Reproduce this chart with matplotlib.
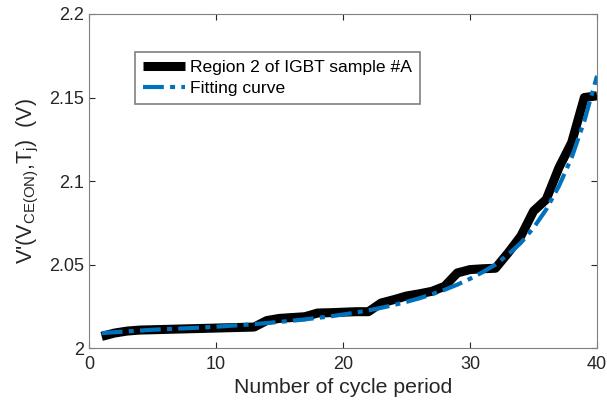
import matplotlib.pyplot as plt
import numpy as np

plt.rcParams['font.family'] = ['Liberation Sans', 'DejaVu Sans']
plt.rcParams['mathtext.fontset'] = 'custom'
plt.rcParams['mathtext.rm'] = 'Liberation Sans'
plt.rcParams['mathtext.it'] = 'Liberation Sans'

# Measured data (cycle 1..40)
cycles = np.arange(1, 41)
measured = [2.007, 2.009, 2.0102, 2.0108, 2.011, 2.0112, 2.0114, 2.0116, 2.0118, 2.012,
            2.0122, 2.0124, 2.0126, 2.0165, 2.0178, 2.0183, 2.0188, 2.021, 2.0212, 2.0215,
            2.0218, 2.0218, 2.027, 2.029, 2.0312, 2.0325, 2.034, 2.037, 2.045, 2.047,
            2.0475, 2.0478, 2.057, 2.067, 2.082, 2.089, 2.108, 2.123, 2.150, 2.151]

# Fitting curve values
fitted = [2.009, 2.0095, 2.010, 2.0105, 2.011, 2.0113, 2.0117, 2.012, 2.0124, 2.0128,
          2.0133, 2.0138, 2.0144, 2.015, 2.0157, 2.0164, 2.0172, 2.0181, 2.019, 2.0201,
          2.0213, 2.0226, 2.0241, 2.0258, 2.0277, 2.0298, 2.0322, 2.0349, 2.038, 2.0415,
          2.0455, 2.050, 2.056, 2.063, 2.072, 2.083, 2.097, 2.114, 2.136, 2.163]

xticks = [0, 10, 20, 30, 40]
yticks = [2.0, 2.05, 2.1, 2.15, 2.2]
yticklabels = ['2', '2.05', '2.1', '2.15', '2.2']

fig = plt.figure(figsize=(6.07, 4.11), dpi=100)
ax = fig.add_axes([0.1466, 0.153, 0.837, 0.813])

ax.plot(cycles, measured, color='black', linewidth=6.5, solid_joinstyle='round',
        solid_capstyle='butt', label='Region 2 of IGBT sample #A')
ax.plot(cycles, fitted, color='#0072BD', linewidth=3, linestyle=(0, (5, 1.5, 1.2, 1.5)),
        dash_capstyle='butt', label='Fitting curve')

ax.set_xlim(0, 40)
ax.set_ylim(2.0, 2.2)
ax.set_xticks(xticks)
ax.set_yticks(yticks)
ax.set_yticklabels(yticklabels)
ax.tick_params(direction='in', labelsize=13, colors='#262626', length=4,
               top=True, right=True, width=0.8)
ax.tick_params(axis='x', pad=6)
for s in ax.spines.values():
    s.set_color('#808080')
    s.set_linewidth(0.8)

ax.set_xlabel('Number of cycle period', fontsize=15.3, color='#262626', labelpad=3)
ax.set_ylabel(r"V'(V$_{\mathrm{CE(ON)}}$,T$_{\mathrm{j}}$)  (V)", fontsize=15.5,
              color='#262626', labelpad=6)

leg = ax.legend(loc='upper left', bbox_to_anchor=(0.0906, 0.886), fontsize=12.6,
                fancybox=False, framealpha=1, edgecolor='#808080', borderaxespad=0,
                handlelength=2.4, borderpad=0.45, labelspacing=0.3, handletextpad=0.3)
leg.get_frame().set_linewidth(1.2)

plt.savefig('out.png', dpi=100)
